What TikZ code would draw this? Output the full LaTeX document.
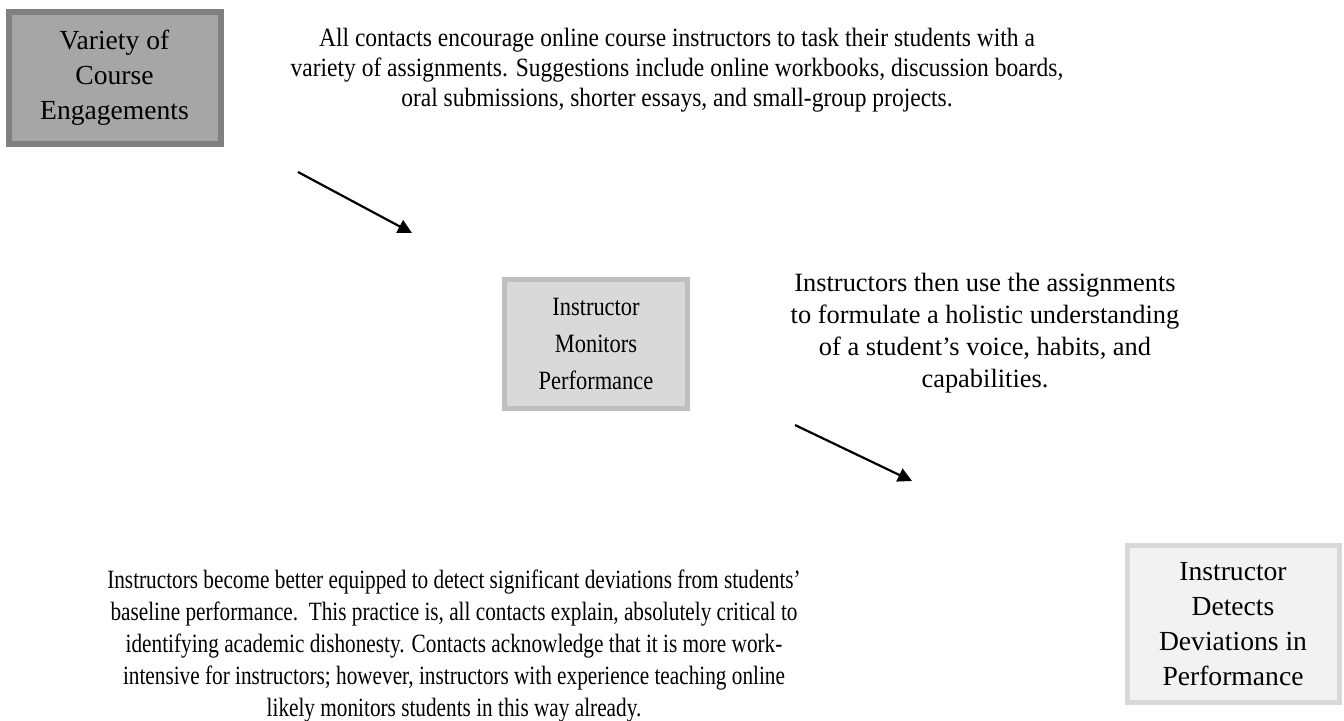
\documentclass[tikz,border=0pt]{standalone}
\usepackage{fontspec}
\setmainfont{Liberation Serif}
\newfontfamily\topfont[FakeStretch=0.89]{Liberation Serif}
\newfontfamily\botfont[FakeStretch=0.805]{Liberation Serif}
\newfontfamily\midboxfont[FakeStretch=0.85]{Liberation Serif}
\usetikzlibrary{arrows.meta}
\begin{document}
\begin{tikzpicture}[x=0.5pt,y=-0.5pt,
  txt/.style={align=center,inner sep=0pt,font=\fontsize{13.2}{16}\selectfont},
  bx/.style={draw,align=center,inner sep=0pt,font=\fontsize{13.8}{17.5}\selectfont},
  flow/.style={-{Triangle[length=7pt,width=7pt]},line width=1.1pt}]
\useasboundingbox (0,0) rectangle (1344,720);
\node[bx,line width=3pt,draw=black!50,fill=black!35,minimum width=106pt,minimum height=66pt] (b1) at (114.5,77.5) {Variety of\\Course\\Engagements};
\node[bx,line width=2.5pt,draw=black!25,fill=black!15,minimum width=91.5pt,minimum height=64.5pt,font=\midboxfont\fontsize{13.2}{18.5}\selectfont] (b2) at (596,344) {Instructor\\Monitors\\Performance};
\node[bx,line width=2.5pt,draw=black!15,fill=black!5,minimum width=106pt,minimum height=78.5pt] (b3) at (1233,624) {Instructor\\Detects\\Deviations in\\Performance};
\node[txt,font=\topfont\fontsize{13.2}{15}\selectfont] (t1) at (677,70) {All contacts encourage online course instructors to task their students with a\\variety of assignments. Suggestions include online workbooks, discussion boards,\\oral submissions, shorter essays, and small-group projects.};
\node[txt] (t2) at (985,333) {Instructors then use the assignments\\to formulate a holistic understanding\\of a student’s voice, habits, and\\capabilities.};
\node[txt,font=\botfont\fontsize{13.2}{16}\selectfont] (t3) at (454,646) {Instructors become better equipped to detect significant deviations from students’\\baseline performance.\ \ This practice is, all contacts explain, absolutely critical to\\identifying academic dishonesty. Contacts acknowledge that it is more work-\\intensive for instructors; however, instructors with experience teaching online\\likely monitors students in this way already.};
\coordinate (a1s) at (298,172);
\coordinate (a1e) at (412,233);
\coordinate (a2s) at (795,425);
\coordinate (a2e) at (912,481);
\draw[flow] (a1s) -- (a1e);
\draw[flow] (a2s) -- (a2e);
\end{tikzpicture}
\end{document}
